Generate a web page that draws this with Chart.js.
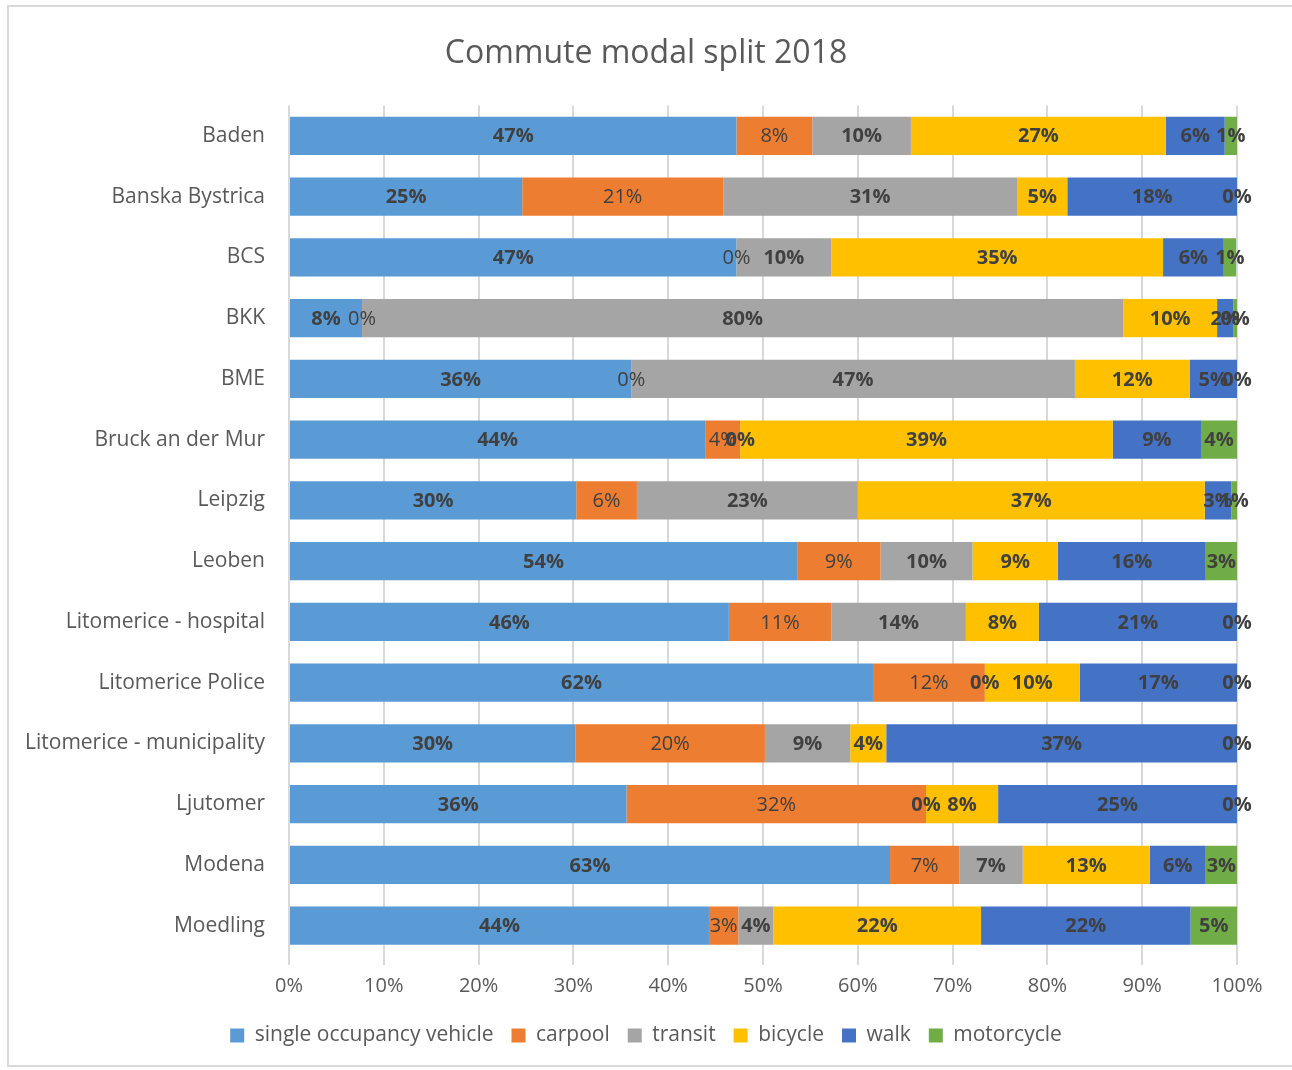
<!DOCTYPE html>
<html>
<head>
<meta charset="utf-8">
<script src="https://cdn.jsdelivr.net/npm/chart.js@4/dist/chart.umd.min.js"></script>
<style>
  body { margin: 0; background: #fff; }
  #frame { position: absolute; left: 7px; top: 5px; width: 1290px; height: 1062px; border: 2px solid #d9d9d9; border-right: none; box-sizing: border-box; }
  #wrap { position: absolute; left: 0; top: 0; width: 1292px; height: 1070px; }
</style>
</head>
<body>
<div id="frame"></div>
<div id="wrap"><canvas id="chart"></canvas></div>
<script>
// ciudades / categorías
const cities = ["Baden", "Banska Bystrica", "BCS", "BKK", "BME", "Bruck an der Mur", "Leipzig", "Leoben",
  "Litomerice - hospital", "Litomerice Police", "Litomerice - municipality", "Ljutomer", "Modena", "Moedling"];

// reparto modal (%)
const sov        = [47.2, 24.6, 47.2, 7.7, 36.1, 43.9, 30.3, 53.6, 46.4, 61.6, 30.2, 35.6, 63.4, 44.3];
const carpool    = [8.0, 21.2, 0, 0, 0, 3.7, 6.4, 8.8, 10.8, 11.8, 20.0, 31.6, 7.3, 3.1];
const transit    = [10.4, 31.0, 10.0, 80.3, 46.8, 0, 23.3, 9.7, 14.2, 0, 9.0, 0, 6.7, 3.7];
const bicycle    = [26.9, 5.3, 35.0, 9.9, 12.1, 39.3, 36.6, 9.0, 7.7, 10.0, 3.8, 7.6, 13.4, 21.9];
const walk       = [6.2, 17.9, 6.4, 1.7, 5.0, 9.3, 2.8, 15.6, 20.9, 16.6, 37.0, 25.2, 5.9, 22.1];
const motorcycle = [1.3, 0, 1.3, 0.4, 0, 3.8, 0.6, 3.3, 0, 0, 0, 0, 3.3, 4.9];

const xTicks = [0, 10, 20, 30, 40, 50, 60, 70, 80, 90, 100];

const FONT = "'Open Sans', sans-serif";

// etiquetas dentro de cada segmento
const segmentLabels = {
  id: "segmentLabels",
  afterDatasetsDraw(chart) {
    const ctx = chart.ctx;
    ctx.save();
    ctx.textAlign = "center";
    ctx.textBaseline = "middle";
    ctx.fillStyle = "#404040";
    chart.data.datasets.forEach((ds, i) => {
      const meta = chart.getDatasetMeta(i);
      ctx.font = (ds.label === "carpool" ? "" : "bold ") + "20px " + FONT;
      meta.data.forEach((bar, j) => {
        const cx = (bar.x + bar.base) / 2;
        ctx.fillText(Math.round(ds.data[j]) + "%", cx, bar.y + 1);
      });
    });
    ctx.restore();
  }
};

const series = [
  ["single occupancy vehicle", sov, "#5B9BD5"],
  ["carpool", carpool, "#ED7D31"],
  ["transit", transit, "#A5A5A5"],
  ["bicycle", bicycle, "#FFC000"],
  ["walk", walk, "#4472C4"],
  ["motorcycle", motorcycle, "#70AD47"]
];

new Chart(document.getElementById("chart"), {
  type: "bar",
  data: {
    labels: cities,
    datasets: series.map(([label, data, color]) => ({
      label: label,
      data: data,
      backgroundColor: color,
      borderWidth: 0,
      categoryPercentage: 1,
      barPercentage: 0.63
    }))
  },
  options: {
    indexAxis: "y",
    responsive: true,
    maintainAspectRatio: false,
    animation: false,
    layout: { padding: { left: 0, right: 0, top: 0, bottom: 14 } },
    plugins: {
      title: {
        display: true,
        text: "Commute modal split 2018",
        color: "#595959",
        font: { family: FONT, size: 32, weight: "normal" },
        padding: { top: 35, bottom: 32 }
      },
      legend: {
        position: "bottom",
        labels: {
          color: "#595959",
          font: { family: FONT, size: 21 },
          boxWidth: 14,
          boxHeight: 14,
          padding: 18
        }
      },
      tooltip: { enabled: false }
    },
    scales: {
      x: {
        stacked: true,
        min: 0,
        max: 100,
        afterBuildTicks(scale) { scale.ticks = xTicks.map(v => ({ value: v })); },
        ticks: {
          color: "#595959",
          font: { family: FONT, size: 20 },
          padding: 9,
          callback: v => v + "%"
        },
        grid: { color: "#d9d9d9", lineWidth: 2, tickLength: 9, tickColor: "#d9d9d9" },
        border: { display: false }
      },
      y: {
        stacked: true,
        afterFit(scale) { scale.width = 289; },
        ticks: {
          color: "#595959",
          font: { family: FONT, size: 21 },
          padding: 16
        },
        grid: { display: false },
        border: { display: false }
      },
      // eje vacío a la derecha para dejar margen
      yRight: {
        type: "linear",
        position: "right",
        afterFit(scale) { scale.width = 55; },
        ticks: { display: false },
        grid: { display: false },
        border: { display: false }
      }
    }
  },
  plugins: [segmentLabels]
});
</script>
</body>
</html>
